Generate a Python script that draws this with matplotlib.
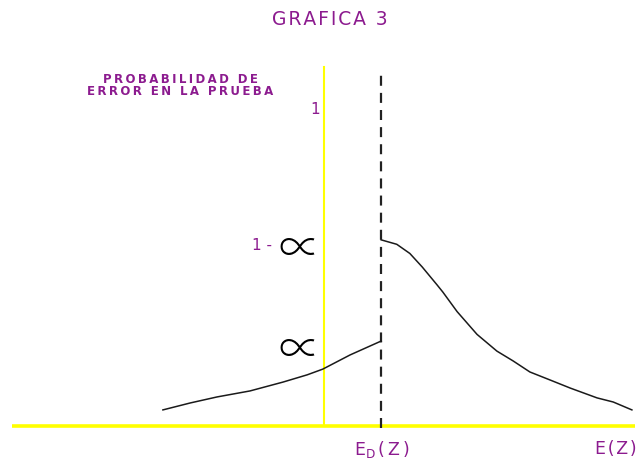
import matplotlib

matplotlib.use("Agg")
import matplotlib.pyplot as plt

# curve values (x in arbitrary Z units, y = probability)
z_left = [2.41, 2.85, 3.28, 3.81, 4.34, 4.73, 4.98, 5.42, 5.92]
p_left = [0.051, 0.073, 0.092, 0.111, 0.139, 0.162, 0.180, 0.225, 0.269]
z_right = [5.92, 6.17, 6.38, 6.58, 6.82, 6.91, 7.14, 7.46, 7.78, 8.04,
           8.31, 8.63, 8.96, 9.39, 9.65, 9.95]
p_right = [0.589, 0.575, 0.546, 0.503, 0.446, 0.424, 0.362, 0.290, 0.237,
           0.206, 0.171, 0.146, 0.120, 0.089, 0.076, 0.051]

z_axis = 5.0        # vertical (yellow) axis
z_d = 5.92          # E_D(Z)
z_end = 10.0        # E(Z)
alpha = 0.25
one_minus_alpha = 0.57

purple = "#8c1b8f"
yellow = "#ffff00"


def spaced(s, sep="\u2009"):
    # the original lettering is wide, so pad each letter a little
    return "\n".join(sep.join(line) for line in s.split("\n"))


fig = plt.figure(figsize=(6.37, 4.63), dpi=100)
ax = fig.add_axes([0, 0, 1, 1])
ax.set_xlim(-0.209, 10.032)
ax.set_ylim(-0.117, 1.348)
ax.axis("off")

# axes
ax.plot([-0.02, z_end], [0, 0], color=yellow, lw=2.6, solid_capstyle="butt", zorder=1)
ax.plot([z_axis, z_axis], [0, 1.136], color=yellow, lw=1.5, zorder=1)
ax.plot([z_d, z_d], [-0.006, 1.127], color="#222222", lw=1.6,
        dashes=(4.5, 3.2), zorder=2)

# curve
ax.plot(z_left, p_left, color="#1a1a1a", lw=1.1, zorder=3)
ax.plot(z_right, p_right, color="#1a1a1a", lw=1.1, zorder=3)

# texts
ax.text(5.1, 1.285, spaced("GRAFICA 3", "\u200a"), color=purple, fontsize=13.5,
        ha="center", va="center")
ax.text(2.69, 1.076, spaced("PROBABILIDAD DE\nERROR EN LA PRUEBA"), color=purple,
        fontsize=8.5, fontweight="bold", ha="center", va="center", linespacing=0.9)
ax.text(4.93, 1.0, "1", color=purple, fontsize=11, ha="right", va="center")

ax.text(4.16, one_minus_alpha, "1 -", color=purple, fontsize=11,
        ha="right", va="center")
sym_font = ["Noto Sans CJK JP", "DejaVu Sans"]
for level in (one_minus_alpha, alpha):
    ax.text(4.93, level - 0.013, "\u221d", color="black", fontsize=30,
            family=sym_font, fontweight="light", ha="right", va="center")

ax.text(z_d, -0.073, r"$\mathregular{E_D\,(\,Z\,)}$", color=purple, fontsize=12.5,
        ha="center", va="center")
ax.text(z_end + 0.03, -0.073, spaced("E(Z)", "\u200a"), color=purple, fontsize=12.5,
        ha="right", va="center")

fig.savefig("out.png", dpi=100, facecolor="white")
